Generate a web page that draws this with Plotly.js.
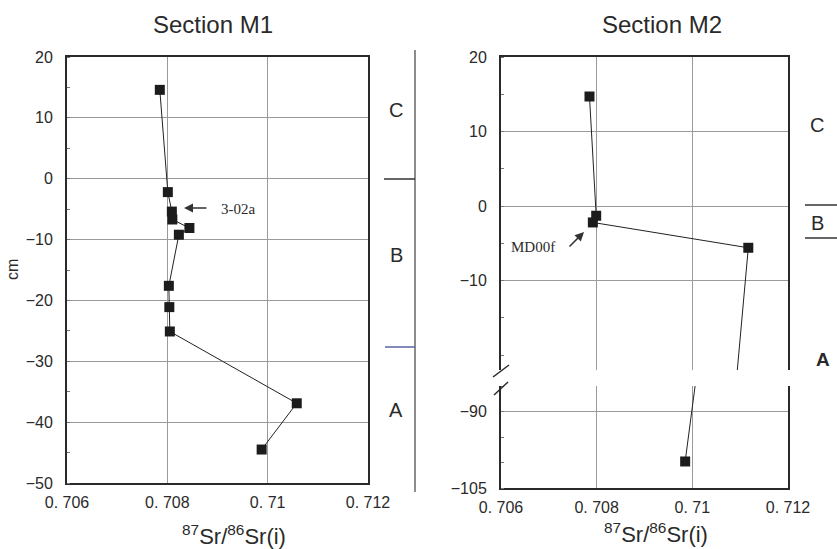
<!DOCTYPE html>
<html>
<head>
<meta charset="utf-8">
<script src="https://cdn.plot.ly/plotly-3.0.1.min.js"></script>
<style>html,body{margin:0;padding:0;background:#fff;}#chart{width:837px;height:549px;}</style>
</head>
<body>
<div id="chart"></div>
<script>
// ---- data ----
const m1Sr    = [0.70785, 0.70801, 0.70809, 0.70810, 0.70844, 0.70823, 0.70803, 0.70804, 0.70805, 0.71058, 0.70988];
const m1Depth = [14.6, -2.2, -5.4, -6.7, -8.1, -9.2, -17.6, -21.1, -25.1, -36.9, -44.5];
const m2Sr    = [0.70785, 0.70799, 0.70792, 0.71117, 0.70985];
const m2Depth = [14.7, -1.3, -2.2, -5.6, -99.8];
const xTickVals = [0.706, 0.708, 0.710, 0.712];
const xTickText = ['0. 706', '0. 708', '0. 71', '0. 712'];
const m1YTicks = [20, 10, 0, -10, -20, -30, -40, -50];
const m2UpperYTicks = [20, 10, 0, -10];
const m2LowerYTicks = [-90, -105];
const zoneLabels = ['C', 'B', 'A'];

const W = 837, H = 549;
const PX = x => x / W, PY = y => 1 - y / H;
const FONT = 'Liberation Sans, Arial, sans-serif';
const SERIF = 'Liberation Serif, Times New Roman, serif';
const txt = '#2a2a2a';

const marker = {symbol: 'square', size: 10, color: '#1c1c1c', line: {width: 0}};
const lineStyle = {color: '#222', width: 1};

const traces = [
  {x: m1Sr, y: m1Depth, xaxis: 'x', yaxis: 'y', mode: 'lines+markers', marker, line: lineStyle},
  {x: m2Sr, y: m2Depth, xaxis: 'x2', yaxis: 'y2', mode: 'lines+markers', marker, line: lineStyle},
  {x: m2Sr, y: m2Depth, xaxis: 'x3', yaxis: 'y3', mode: 'lines+markers', marker, line: lineStyle}
];

const xBase = {
  range: [0.706, 0.712], tickvals: xTickVals, ticktext: xTickText,
  showgrid: true, gridcolor: '#9a9a9a', gridwidth: 1, zeroline: false,
  showline: true, linecolor: '#2a2a2a', linewidth: 2, ticks: '',
  ticklabelstandoff: 4,
  tickfont: {family: FONT, size: 16, color: txt}, fixedrange: true
};
const yBase = {
  showgrid: true, gridcolor: '#9a9a9a', gridwidth: 1, zeroline: false,
  showline: true, mirror: true, linecolor: '#2a2a2a', linewidth: 2, ticks: '',
  ticklabelstandoff: 9,
  tickfont: {family: FONT, size: 16, color: txt}, fixedrange: true,
  minor: {dtick: 5, ticks: 'inside', ticklen: 3, tickcolor: '#777', showgrid: false}
};

function ann(text, x, y, size, extra) {
  return Object.assign({text, x: PX(x), y: PY(y), xref: 'paper', yref: 'paper', xanchor: 'center', yanchor: 'middle',
    showarrow: false, font: {family: FONT, size, color: txt}}, extra || {});
}
function arrow(hx, hy, ax, ay) {
  return {text: '', x: PX(hx), y: PY(hy), xref: 'paper', yref: 'paper', showarrow: true, ax, ay,
    arrowhead: 2, arrowsize: 1.2, arrowwidth: 1.5, arrowcolor: '#333'};
}
function seg(x0, y0, x1, y1, color, width) {
  return {type: 'line', xref: 'paper', yref: 'paper', x0: PX(x0), x1: PX(x1), y0: PY(y0), y1: PY(y1), line: {color, width}};
}

const layout = {
  width: W, height: H, autosize: false,
  margin: {l: 0, r: 0, t: 0, b: 0},
  paper_bgcolor: '#fff', plot_bgcolor: '#fff',
  showlegend: false,
  xaxis: Object.assign({}, xBase, {domain: [PX(67), PX(368)], anchor: 'y', mirror: true}),
  yaxis: Object.assign({}, yBase, {domain: [PY(483), PY(57)], anchor: 'x', range: [-50, 20], tickvals: m1YTicks}),
  xaxis2: Object.assign({}, xBase, {domain: [PX(501), PX(788)], anchor: 'y2', side: 'top', showticklabels: false}),
  yaxis2: Object.assign({}, yBase, {domain: [PY(370), PY(57)], anchor: 'x2', range: [-22, 20], tickvals: m2UpperYTicks}),
  xaxis3: Object.assign({}, xBase, {domain: [PX(501), PX(788)], anchor: 'y3'}),
  yaxis3: Object.assign({}, yBase, {domain: [PY(488), PY(386)], anchor: 'x3', range: [-105, -85], tickvals: m2LowerYTicks}),
  annotations: [
    ann('Section M1', 213, 24, 24),
    ann('Section M2', 662, 24, 24),
    ann('<sup>87</sup>Sr/<sup>86</sup>Sr(i)', 234, 535, 22),
    ann('<sup>87</sup>Sr/<sup>86</sup>Sr(i)', 656, 533, 22),
    ann('cm', 12, 270, 16, {textangle: -90}),
    ann(zoneLabels[0], 396, 110, 20),
    ann(zoneLabels[1], 396, 255, 20),
    ann(zoneLabels[2], 396, 410, 20),
    ann(zoneLabels[0], 817, 125, 20),
    ann(zoneLabels[1], 817, 223, 20),
    ann('<b>' + zoneLabels[2] + '</b>', 823, 359, 19),
    ann('3-02a', 238, 209, 15, {font: {family: SERIF, size: 15, color: txt}}),
    arrow(184, 208, 24, 0),
    ann('MD00f', 533, 247, 15, {font: {family: SERIF, size: 15, color: txt}}),
    arrow(584, 232, -16, 16)
  ],
  shapes: [
    seg(415, 50, 415, 492, '#666', 1.5),
    seg(384, 179, 415, 179, '#333', 1.5),
    seg(385, 347, 415, 347, '#5a64a8', 1.5),
    seg(805, 205, 837, 205, '#333', 1.5),
    seg(805, 238, 837, 238, '#333', 1.5),
    seg(493, 377, 509, 365, '#2a2a2a', 1.5),
    seg(494, 395, 508, 382, '#2a2a2a', 1.5)
  ]
};

Plotly.newPlot('chart', traces, layout, {staticPlot: true, displayModeBar: false});
</script>
</body>
</html>
